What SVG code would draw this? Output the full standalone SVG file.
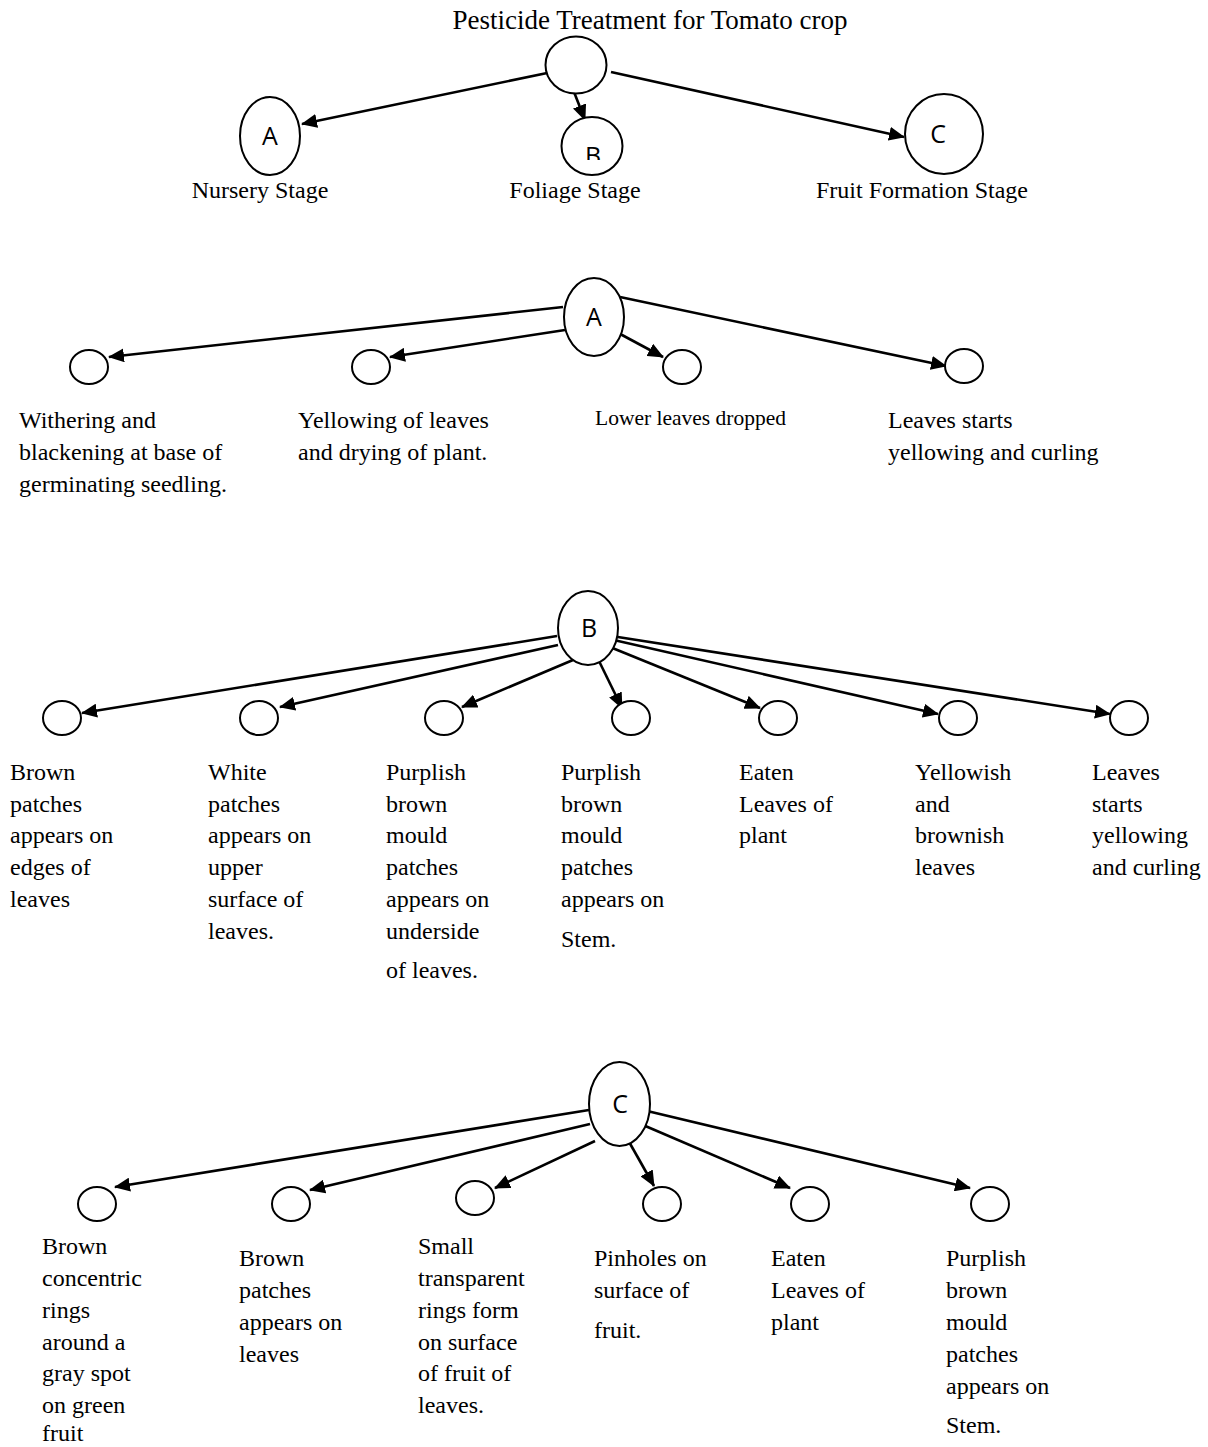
<svg xmlns="http://www.w3.org/2000/svg" width="1208" height="1447" viewBox="0 0 1208 1447">
<style>
.n{fill:#fff;stroke:#000;stroke-width:2}
.t{font-family:"Liberation Serif","Times New Roman",serif;font-size:24px;fill:#000}
.h{font-family:"Liberation Serif","Times New Roman",serif;font-size:27px;fill:#000}
.s{font-family:"Liberation Serif","Times New Roman",serif;font-size:21.5px;fill:#000}
.l{font-family:"Open Sans","Liberation Sans",sans-serif;font-size:25px;fill:#000;text-anchor:middle}
.e{fill:none;stroke:#000;stroke-width:2.6}
</style>
<defs>
<marker id="ah" markerUnits="userSpaceOnUse" markerWidth="16" markerHeight="14" refX="15" refY="7" orient="auto"><path d="M0,0 L16,7 L0,14 Z" fill="#000"/></marker>
<clipPath id="clipB"><rect x="540" y="100" width="100" height="60"/></clipPath>
</defs>
<rect width="1208" height="1447" fill="#fff"/>
<text class="h" x="650" y="29" text-anchor="middle">Pesticide Treatment for Tomato crop</text>
<g id="connectors">
<line class="e" x1="552" y1="72" x2="302" y2="124" marker-end="url(#ah)"/>
<line class="e" x1="574" y1="92" x2="585" y2="120" marker-end="url(#ah)"/>
<line class="e" x1="611" y1="72" x2="904" y2="137" marker-end="url(#ah)"/>
<line class="e" x1="563" y1="307" x2="109" y2="357" marker-end="url(#ah)"/>
<line class="e" x1="565" y1="330" x2="390" y2="357" marker-end="url(#ah)"/>
<line class="e" x1="609" y1="328" x2="663" y2="357" marker-end="url(#ah)"/>
<line class="e" x1="620" y1="297" x2="946" y2="366" marker-end="url(#ah)"/>
<line class="e" x1="557" y1="636" x2="82" y2="713" marker-end="url(#ah)"/>
<line class="e" x1="558" y1="645" x2="280" y2="707" marker-end="url(#ah)"/>
<line class="e" x1="573" y1="660" x2="462" y2="707" marker-end="url(#ah)"/>
<line class="e" x1="598" y1="659" x2="622" y2="708" marker-end="url(#ah)"/>
<line class="e" x1="605" y1="645" x2="760" y2="708" marker-end="url(#ah)"/>
<line class="e" x1="605" y1="638" x2="938" y2="714" marker-end="url(#ah)"/>
<line class="e" x1="605" y1="635" x2="1110" y2="714" marker-end="url(#ah)"/>
<line class="e" x1="589" y1="1110" x2="115" y2="1187" marker-end="url(#ah)"/>
<line class="e" x1="590" y1="1124" x2="310" y2="1190" marker-end="url(#ah)"/>
<line class="e" x1="595" y1="1141" x2="495" y2="1188" marker-end="url(#ah)"/>
<line class="e" x1="628" y1="1140" x2="654" y2="1186" marker-end="url(#ah)"/>
<line class="e" x1="643" y1="1125" x2="790" y2="1188" marker-end="url(#ah)"/>
<line class="e" x1="643" y1="1110" x2="970" y2="1188" marker-end="url(#ah)"/>
</g>
<g id="root"><ellipse class="n" cx="576" cy="65" rx="30.5" ry="28.5"/></g>
<g id="nodeA"><ellipse class="n" cx="270" cy="136" rx="30" ry="39"/><text class="l" x="270" y="145">A</text><text class="t" x="260" y="198" text-anchor="middle">Nursery Stage</text></g>
<g id="nodeB"><ellipse class="n" cx="592" cy="146" rx="30.5" ry="29"/><text class="l" x="593" y="165" clip-path="url(#clipB)">B</text><text class="t" x="575" y="198" text-anchor="middle">Foliage Stage</text></g>
<g id="nodeC"><ellipse class="n" cx="944" cy="134" rx="39" ry="40"/><text class="l" x="938" y="143">C</text><text class="t" x="922" y="198" text-anchor="middle">Fruit Formation Stage</text></g>

<g id="A2"><ellipse class="n" cx="594" cy="317" rx="30" ry="39"/><text class="l" x="594" y="326">A</text></g>
<g id="A-1"><ellipse class="n" cx="89" cy="367" rx="19" ry="17"/><text class="t" x="19" y="428">Withering and</text><text class="t" x="19" y="460">blackening at base of</text><text class="t" x="19" y="492">germinating seedling.</text></g>
<g id="A-2"><ellipse class="n" cx="371" cy="367" rx="19" ry="17"/><text class="t" x="298" y="428">Yellowing of leaves</text><text class="t" x="298" y="460">and drying of plant.</text></g>
<g id="A-3"><ellipse class="n" cx="682" cy="367" rx="19" ry="17"/><text class="s" x="595" y="425">Lower leaves dropped</text></g>
<g id="A-4"><ellipse class="n" cx="964" cy="366" rx="19" ry="17"/><text class="t" x="888" y="428">Leaves starts</text><text class="t" x="888" y="460">yellowing and curling</text></g>

<g id="B2"><ellipse class="n" cx="588" cy="628" rx="30" ry="37"/><text class="l" x="589" y="637">B</text></g>
<g id="B-1"><ellipse class="n" cx="62" cy="718" rx="19" ry="17"/><text class="t" x="10" y="780">Brown</text><text class="t" x="10" y="812">patches</text><text class="t" x="10" y="843">appears on</text><text class="t" x="10" y="875">edges of</text><text class="t" x="10" y="907">leaves</text></g>
<g id="B-2"><ellipse class="n" cx="259" cy="718" rx="19" ry="17"/><text class="t" x="208" y="780">White</text><text class="t" x="208" y="812">patches</text><text class="t" x="208" y="843">appears on</text><text class="t" x="208" y="875">upper</text><text class="t" x="208" y="907">surface of</text><text class="t" x="208" y="939">leaves.</text></g>
<g id="B-3"><ellipse class="n" cx="444" cy="718" rx="19" ry="17"/><text class="t" x="386" y="780">Purplish</text><text class="t" x="386" y="812">brown</text><text class="t" x="386" y="843">mould</text><text class="t" x="386" y="875">patches</text><text class="t" x="386" y="907">appears on</text><text class="t" x="386" y="939">underside</text><text class="t" x="386" y="978">of leaves.</text></g>
<g id="B-4"><ellipse class="n" cx="631" cy="718" rx="19" ry="17"/><text class="t" x="561" y="780">Purplish</text><text class="t" x="561" y="812">brown</text><text class="t" x="561" y="843">mould</text><text class="t" x="561" y="875">patches</text><text class="t" x="561" y="907">appears on</text><text class="t" x="561" y="947">Stem.</text></g>
<g id="B-5"><ellipse class="n" cx="778" cy="718" rx="19" ry="17"/><text class="t" x="739" y="780">Eaten</text><text class="t" x="739" y="812">Leaves of</text><text class="t" x="739" y="843">plant</text></g>
<g id="B-6"><ellipse class="n" cx="958" cy="718" rx="19" ry="17"/><text class="t" x="915" y="780">Yellowish</text><text class="t" x="915" y="812">and</text><text class="t" x="915" y="843">brownish</text><text class="t" x="915" y="875">leaves</text></g>
<g id="B-7"><ellipse class="n" cx="1129" cy="718" rx="19" ry="17"/><text class="t" x="1092" y="780">Leaves</text><text class="t" x="1092" y="812">starts</text><text class="t" x="1092" y="843">yellowing</text><text class="t" x="1092" y="875">and curling</text></g>

<g id="C2"><ellipse class="n" cx="619.5" cy="1104" rx="30.5" ry="42"/><text class="l" x="620" y="1113">C</text></g>
<g id="C-1"><ellipse class="n" cx="97" cy="1204" rx="19" ry="17"/><text class="t" x="42" y="1254">Brown</text><text class="t" x="42" y="1286">concentric</text><text class="t" x="42" y="1318">rings</text><text class="t" x="42" y="1350">around a</text><text class="t" x="42" y="1381">gray spot</text><text class="t" x="42" y="1413">on green</text><text class="t" x="42" y="1441">fruit</text></g>
<g id="C-2"><ellipse class="n" cx="291" cy="1204" rx="19" ry="17"/><text class="t" x="239" y="1266">Brown</text><text class="t" x="239" y="1298">patches</text><text class="t" x="239" y="1330">appears on</text><text class="t" x="239" y="1362">leaves</text></g>
<g id="C-3"><ellipse class="n" cx="475" cy="1198" rx="19" ry="17"/><text class="t" x="418" y="1254">Small</text><text class="t" x="418" y="1286">transparent</text><text class="t" x="418" y="1318">rings form</text><text class="t" x="418" y="1350">on surface</text><text class="t" x="418" y="1381">of fruit of</text><text class="t" x="418" y="1413">leaves.</text></g>
<g id="C-4"><ellipse class="n" cx="662" cy="1204" rx="19" ry="17"/><text class="t" x="594" y="1266">Pinholes on</text><text class="t" x="594" y="1298">surface of</text><text class="t" x="594" y="1338">fruit.</text></g>
<g id="C-5"><ellipse class="n" cx="810" cy="1204" rx="19" ry="17"/><text class="t" x="771" y="1266">Eaten</text><text class="t" x="771" y="1298">Leaves of</text><text class="t" x="771" y="1330">plant</text></g>
<g id="C-6"><ellipse class="n" cx="990" cy="1204" rx="19" ry="17"/><text class="t" x="946" y="1266">Purplish</text><text class="t" x="946" y="1298">brown</text><text class="t" x="946" y="1330">mould</text><text class="t" x="946" y="1362">patches</text><text class="t" x="946" y="1394">appears on</text><text class="t" x="946" y="1433">Stem.</text></g>
</svg>
